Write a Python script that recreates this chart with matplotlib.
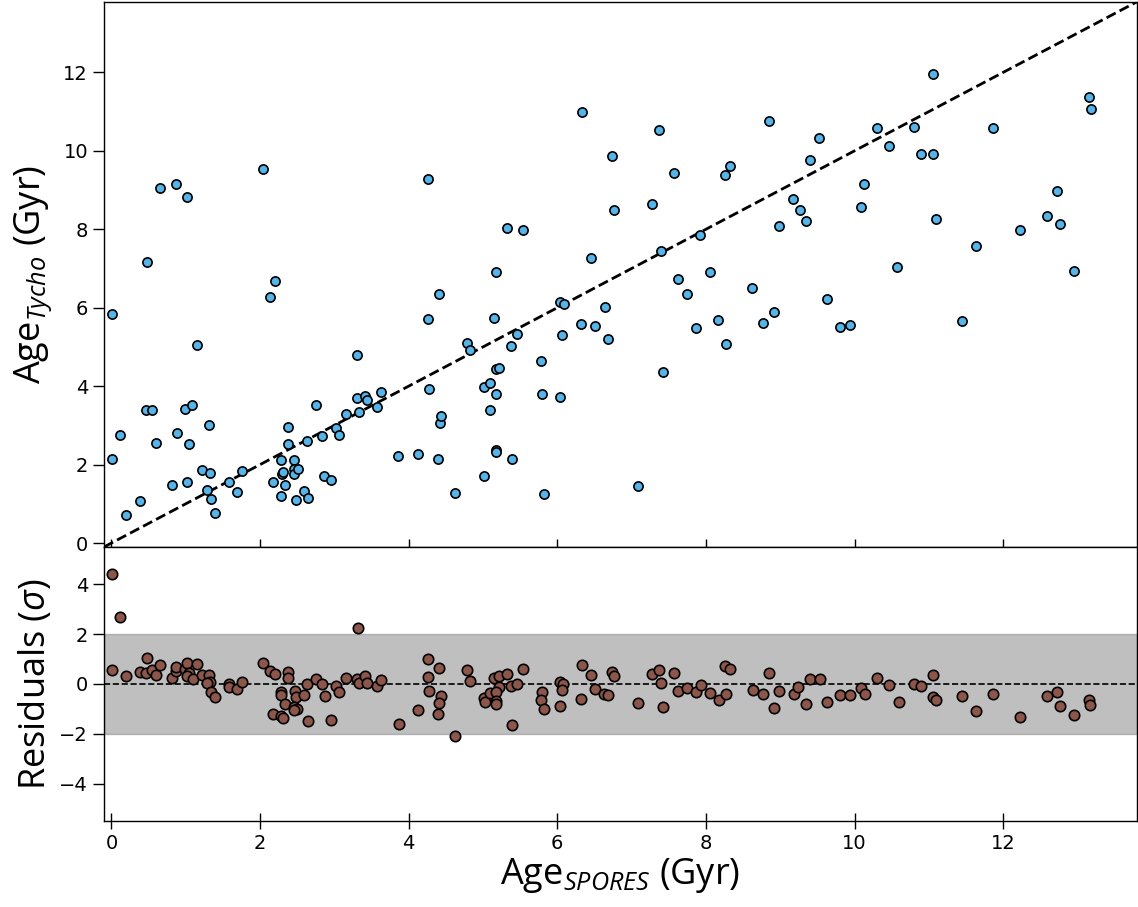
import numpy as np
import matplotlib
matplotlib.use("Agg")
import matplotlib.pyplot as plt

plt.rcParams['mathtext.fontset'] = 'custom'
plt.rcParams['mathtext.rm'] = 'Open Sans'
plt.rcParams['mathtext.it'] = 'Open Sans:italic'
plt.rcParams['mathtext.bf'] = 'Open Sans:bold'

# top panel: SPORES age vs Tycho age (Gyr)
age_spores = [0.01, 0.01, 0.11, 0.20, 0.38, 0.47, 0.48, 0.55, 0.60, 0.65, 0.82, 0.87, 0.88, 0.99,
              1.02, 1.02, 1.04, 1.09, 1.15, 1.22, 1.28, 1.31, 1.33, 1.34, 1.40, 1.58, 1.69, 1.76,
              2.04, 2.14, 2.17, 2.20, 2.28, 2.28, 2.29, 2.31, 2.34, 2.37, 2.38, 2.46, 2.46, 2.46,
              2.48, 2.51, 2.59, 2.63, 2.64, 2.75, 2.83, 2.86, 2.95, 3.02, 3.06, 3.16, 3.31, 3.31,
              3.33, 3.41, 3.44, 3.57, 3.63, 3.86, 4.13, 4.26, 4.26, 4.28, 4.39, 4.41, 4.42, 4.44,
              4.63, 4.78, 4.82, 5.01, 5.02, 5.09, 5.10, 5.15, 5.17, 5.17, 5.18, 5.18, 5.18, 5.21,
              5.33, 5.38, 5.39, 5.46, 5.54, 5.78, 5.80, 5.82, 6.03, 6.04, 6.07, 6.09, 6.32, 6.33,
              6.45, 6.51, 6.64, 6.68, 6.74, 6.76, 7.08, 7.27, 7.37, 7.39, 7.42, 7.57, 7.63, 7.75,
              7.87, 7.92, 8.06, 8.16, 8.26, 8.27, 8.32, 8.62, 8.77, 8.85, 8.92, 8.99, 9.17, 9.26,
              9.35, 9.40, 9.52, 9.63, 9.81, 9.94, 10.09, 10.13, 10.30, 10.46, 10.57, 10.80, 10.89,
              11.05, 11.06, 11.10, 11.45, 11.63, 11.87, 12.23, 12.59, 12.73, 12.77, 12.96, 13.16,
              13.18]
age_tycho = [5.85, 2.13, 2.76, 0.71, 1.06, 3.38, 7.16, 3.39, 2.54, 9.05, 1.49, 9.15, 2.81, 3.41,
             8.82, 1.55, 2.53, 3.52, 5.05, 1.87, 1.36, 3.02, 1.79, 1.12, 0.76, 1.55, 1.30, 1.84,
             9.54, 6.27, 1.56, 6.68, 2.11, 1.20, 1.75, 1.82, 1.49, 2.96, 2.52, 2.11, 1.88, 1.75,
             1.10, 1.89, 1.32, 2.61, 1.15, 3.52, 2.74, 1.72, 1.60, 2.93, 2.76, 3.30, 4.79, 3.69,
             3.35, 3.75, 3.64, 3.47, 3.85, 2.21, 2.28, 9.27, 5.71, 3.92, 2.13, 6.36, 3.07, 3.24,
             1.28, 5.11, 4.92, 3.99, 1.71, 4.09, 3.40, 5.74, 3.81, 2.37, 2.33, 6.90, 4.44, 4.47,
             8.02, 5.02, 2.13, 5.34, 7.97, 4.65, 3.80, 1.24, 6.14, 3.72, 5.30, 6.10, 5.58, 10.98,
             7.28, 5.53, 6.03, 5.21, 9.87, 8.49, 1.45, 8.65, 10.53, 7.45, 4.37, 9.44, 6.73, 6.35,
             5.48, 7.85, 6.91, 5.69, 9.38, 5.07, 9.62, 6.50, 5.62, 10.77, 5.89, 8.08, 8.77, 8.48,
             8.20, 9.77, 10.34, 6.22, 5.50, 5.56, 8.58, 9.15, 10.58, 10.13, 7.03, 10.62, 9.91,
             9.91, 11.97, 8.25, 5.67, 7.57, 10.57, 7.97, 8.35, 8.98, 8.13, 6.94, 11.38,
             11.06]

# bottom panel: residuals in units of sigma
res_age = [0.01, 0.11, 3.32, 0.01, 0.20, 0.38, 0.48, 0.47, 0.55, 0.60, 0.65, 0.82, 0.87, 0.87,
           0.99, 1.02, 1.04, 1.02, 1.10, 1.15, 1.22, 1.31, 1.33, 1.28, 1.34, 1.40, 1.58, 1.58,
           1.69, 1.76, 2.04, 2.14, 2.20, 2.37, 2.38, 2.28, 2.28, 2.47, 2.48, 2.59, 2.34, 2.46,
           2.50, 2.46, 2.17, 2.28, 2.31, 2.63, 2.64, 2.75, 2.83, 2.87, 2.95, 3.02, 3.06, 3.16,
           3.31, 3.33, 3.41, 3.44, 3.57, 3.63, 3.87, 4.13, 4.26, 4.26, 4.41, 4.28, 4.39, 4.44,
           4.41, 4.63, 4.78, 4.83, 5.01, 5.03, 5.09, 5.15, 5.21, 5.22, 5.18, 5.17, 5.18, 5.33,
           5.38, 5.46, 5.54, 5.39, 5.80, 5.78, 5.82, 6.03, 6.08, 6.07, 6.04, 6.33, 6.45, 6.51,
           6.32, 6.74, 6.76, 6.63, 6.68, 7.08, 7.27, 7.37, 7.39, 7.42, 7.57, 7.62, 7.75, 7.87,
           7.93, 8.06, 8.17, 8.26, 8.32, 8.27, 8.85, 8.63, 8.77, 8.92, 8.99, 9.18, 9.24, 9.40,
           9.53, 9.35, 9.63, 9.81, 9.94, 10.09, 10.14, 10.30, 10.46, 10.60, 10.80, 10.89, 11.05,
           11.05, 11.10, 11.45, 11.63, 11.87, 12.23, 12.59, 12.73, 12.77, 12.96, 13.16, 13.17]
res_sigma = [4.43, 2.70, 2.24, 0.55, 0.32, 0.48, 1.06, 0.43, 0.58, 0.36, 0.77, 0.23, 0.53, 0.69,
             0.61, 0.83, 0.43, 0.34, 0.22, 0.80, 0.36, 0.36, 0.09, 0.05, -0.34, -0.54, 0.00, -0.11,
             -0.21, 0.08, 0.84, 0.54, 0.42, 0.47, 0.25, -0.32, -0.46, -0.27, -0.53, -0.46, -0.82,
             -0.92, -1.02, -1.05, -1.20, -1.28, -1.36, -0.01, -1.47, 0.22, 0.00, -0.47, -1.45,
             -0.08, -0.34, 0.26, 0.19, 0.03, 0.32, 0.03, -0.08, 0.15, -1.62, -1.06, 1.02, 0.27,
             0.63, -0.30, -1.20, -0.50, -0.77, -2.10, 0.55, 0.11, -0.55, -0.71, -0.35, 0.24, 0.34,
             -0.13, -0.32, -0.67, -0.81, 0.39, -0.07, -0.01, 0.62, -1.66, -0.34, -0.63, -1.01,
             0.09, 0.01, -0.26, -0.89, 0.77, 0.36, -0.22, -0.61, 0.47, 0.32, -0.39, -0.46, -0.77,
             0.39, 0.55, 0.03, -0.93, 0.46, -0.30, -0.16, -0.34, -0.03, -0.35, -0.63, 0.74, 0.62,
             -0.40, 0.46, -0.26, -0.40, -0.96, -0.27, -0.39, -0.11, 0.20, 0.21, -0.81, -0.71,
             -0.44, -0.46, -0.15, -0.39, 0.23, -0.03, -0.73, 0.00, -0.09, 0.36, -0.51, -0.66,
             -0.47, -1.08, -0.39, -1.32, -0.47, -0.31, -0.89, -1.23, -0.66, -0.84]

lims = (-0.1, 13.8)
label_font = dict(fontsize=26, family='Open Sans')

fig, (ax, axr) = plt.subplots(2, 1, sharex=True, figsize=(11.38, 9.07), dpi=100,
                              gridspec_kw={'height_ratios': [545, 274], 'hspace': 0})
fig.subplots_adjust(left=0.0914, right=0.999, top=0.998, bottom=0.0948)

ax.plot(lims, lims, 'k--', lw=2, zorder=1)
ax.scatter(age_spores, age_tycho, s=44, c='#56b4e9', edgecolors='k', linewidths=1.2, zorder=2)
ax.set_xlim(lims)
ax.set_ylim(lims)
ax.set_ylabel('Age$_{Tycho}$ (Gyr)', labelpad=4, **label_font)

axr.axhspan(-2, 2, color='grey', alpha=0.5, zorder=0)
axr.axhline(0, color='k', ls='--', lw=1.2, zorder=1)
axr.scatter(res_age, res_sigma, s=56, c='#8c564b', edgecolors='k', linewidths=1.2, zorder=2)
axr.set_ylim(-5.5, 5.5)
axr.set_yticks([-4, -2, 0, 2, 4])
axr.set_xticks(np.arange(0, 13, 2))
axr.set_xlabel('Age$_{SPORES}$ (Gyr)', labelpad=2, **label_font)
axr.set_ylabel('Residuals ($\\sigma$)', labelpad=4, **label_font)

for a in (ax, axr):
    a.tick_params(axis='x', direction='inout', length=12, width=1, labelsize=14)
    a.tick_params(axis='y', direction='out', length=8, width=1, labelsize=14)
    for s in a.spines.values():
        s.set_linewidth(1)
ax.tick_params(axis='x', labelbottom=False)

fig.align_ylabels([ax, axr])
fig.savefig('out.png', dpi=100)
